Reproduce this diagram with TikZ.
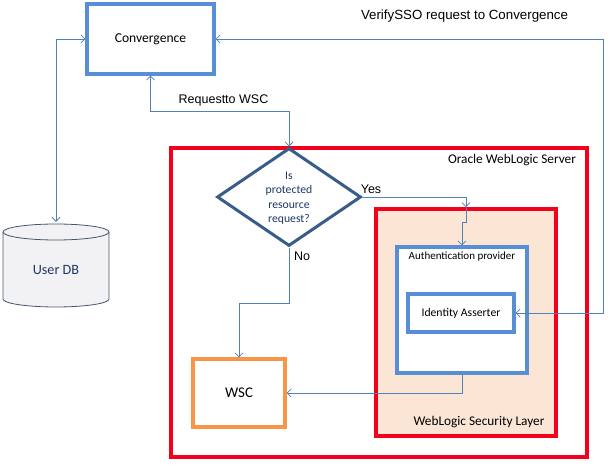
\documentclass[tikz,border=0pt]{standalone}
\usepackage{fontspec}
\setmainfont{Carlito}
\newfontfamily\arialf{Liberation Sans}
\usetikzlibrary{arrows.meta,shapes.geometric,shadows}
\definecolor{lineblue}{RGB}{79,129,189}
\definecolor{boxblue}{RGB}{88,142,212}
\definecolor{diablue}{RGB}{56,93,138}
\definecolor{wlred}{RGB}{245,0,28}
\definecolor{wscorange}{RGB}{247,150,70}
\definecolor{peach}{RGB}{251,230,214}
\definecolor{dbfill}{RGB}{242,242,244}
\definecolor{dbline}{RGB}{70,85,110}
\definecolor{navytext}{RGB}{31,56,100}
\tikzset{
  shd/.style={drop shadow={shadow xshift=2pt,shadow yshift=-2pt,opacity=0.35,fill=black!60}},
  bluebox/.style={draw=boxblue,line width=3.2pt,fill=white,shd,inner sep=0pt},
  redbox/.style={draw=wlred,line width=3.6pt,shd,inner sep=0pt},
  conn/.style={draw=lineblue,line width=0.8pt,{Straight Barb[length=4pt,width=8pt]}-{Straight Barb[length=4pt,width=8pt]}},
  conto/.style={draw=lineblue,line width=0.8pt,-{Straight Barb[length=4pt,width=8pt]}},
  lbl/.style={font=\arialf\fontsize{12.5}{14}\selectfont,inner sep=0pt},
}
\begin{document}
\begin{tikzpicture}[x=1pt,y=-1pt]
\useasboundingbox (0,0) rectangle (610,468);
% outer server box
\node[redbox,fill=white,minimum width=416pt,minimum height=309pt] (server) at (379,302.5) {};
\node[inner sep=0pt,font=\fontsize{13.3}{15}\selectfont] (servertxt) at (512,160) {Oracle WebLogic Server};
% security layer
\node[redbox,fill=peach,minimum width=180pt,minimum height=227pt] (seclayer) at (466,322.5) {};
\node[inner sep=0pt,font=\fontsize{13.3}{15}\selectfont] (sectxt) at (479,422) {WebLogic Security Layer};
% auth provider
\node[bluebox,minimum width=130pt,minimum height=126pt] (auth) at (462,310) {};
\node[inner sep=0pt,font=\fontsize{11}{13}\selectfont] (authtxt) at (462,257) {Authentication provider};
\node[bluebox,minimum width=106pt,minimum height=38pt,font=\fontsize{11.7}{13}\selectfont] (ida) at (461,313) {Identity Asserter};
% convergence
\node[bluebox,minimum width=127pt,minimum height=70pt,font=\fontsize{13.6}{15}\selectfont] (conv) at (150.5,39) {Convergence};
% WSC
\node[draw=wscorange,line width=3.2pt,fill=white,shd,minimum width=92pt,minimum height=68pt,inner sep=0pt,font=\fontsize{14.8}{16}\selectfont] (wsc) at (239,393) {WSC};
% diamond
\node[diamond,draw=diablue,line width=3pt,fill=white,minimum width=144pt,minimum height=98pt,inner sep=0pt] (dia) at (289,197) {};
\node[align=center,inner sep=0pt,text=navytext,font=\fontsize{11.7}{14.5}\selectfont] (diatxt) at (289,198) {Is\\protected\\resource\\request?};
% user DB cylinder
\filldraw[fill=dbfill,draw=dbline,line width=0.8pt] (3,232) -- (3,299) arc (180:360:53pt and 8pt) -- (109,232) arc (0:180:53pt and 8pt) -- cycle;
\draw[dbline,line width=0.8pt] (3,232) arc (180:360:53pt and 8pt);
\node[minimum width=106pt,minimum height=83pt,inner sep=0pt] (udb) at (56,265.5) {};
\node[inner sep=0pt,text=navytext,font=\fontsize{14.2}{16}\selectfont] (udbtxt) at (56,270) {User DB};
% coordinates for bends
\coordinate (rq) at (289,111);
\coordinate (yj1) at (466,222);
\coordinate (yj2) at (462,222);
\coordinate (nj) at (239,303);
\coordinate (vr) at (603,313);
% connectors
\draw[conn] (conv.west) -| ([yshift=2pt]udb.north);
\draw[conn] (conv.south) |- (rq) -- (dia.north);
\draw[conto] (dia.east) -| (seclayer.north);
\draw[conto] (seclayer.north) -- (yj1) -- (yj2) -- (auth.north);
\draw[conto] (dia.south) |- (nj) -- (wsc.north);
\draw[conto] (auth.south) |- (wsc.east);
\draw[conn] (ida.east) -- (vr) |- (conv.east);
% labels
\node[lbl] (lreq) at (223.5,100) {Requestto WSC};
\node[lbl,font=\arialf\fontsize{13.3}{15}\selectfont] (lver) at (464.5,16) {VerifySSO request to Convergence};
\node[lbl] (lyes) at (371,189) {Yes};
\node[lbl] (lno) at (302,256) {No};
\end{tikzpicture}
\end{document}
